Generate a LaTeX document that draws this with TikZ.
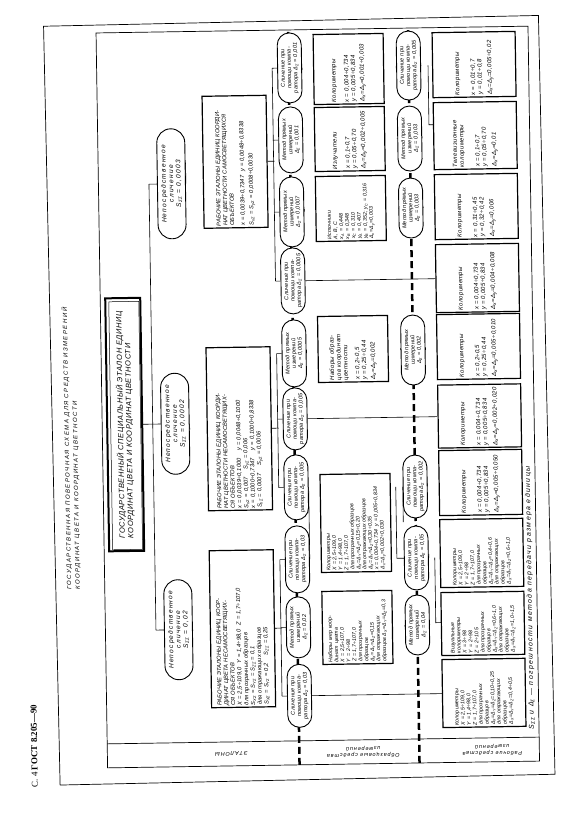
\documentclass[tikz,border=0pt]{standalone}
\usepackage{fontspec}
\setmainfont{Liberation Sans}
\newfontfamily\hdrfont{Liberation Serif}
\usetikzlibrary{shapes.misc,positioning,calc}

\newcommand{\dlt}[1]{Δ\textsubscript{#1}}
\newcommand{\sgm}[1]{S\textsubscript{#1}}

\tikzset{
  frm/.style={line width=0.7pt},
  box/.style={draw, line width=1.2pt, inner sep=2pt, align=left, font=\itshape\fontsize{6}{6.8}\selectfont\addfontfeature{LetterSpace=5}},
  dense/.style={font=\itshape\fontsize{5.3}{6}\selectfont\addfontfeature{LetterSpace=2}},
  wsbox/.style={box, minimum height=64pt, font=\itshape\fontsize{5.8}{6.7}\selectfont\addfontfeature{LetterSpace=2}},
  rbox/.style={box, minimum height=70pt},
  sbox/.style={box, minimum height=83pt},
  oval/.style={draw, line width=0.9pt, fill=white, rounded rectangle, minimum height=24pt, inner sep=0pt, align=center, font=\itshape\fontsize{5.6}{6.3}\selectfont\addfontfeature{LetterSpace=3}},
  nsoval/.style={oval, minimum height=28pt, font=\itshape\fontsize{6.6}{7.4}\selectfont\addfontfeature{LetterSpace=18}},
  link/.style={line width=0.6pt},
  sepline/.style={line width=2.5pt, dash pattern=on 7pt off 4pt},
  ttl/.style={font=\itshape\fontsize{6}{7}\selectfont\addfontfeature{LetterSpace=25}},
  lbl/.style={align=center, font=\itshape\fontsize{5.5}{6.5}\selectfont\addfontfeature{LetterSpace=15}}
}

\begin{document}
\begin{tikzpicture}[x=1pt,y=1pt]
\useasboundingbox (0,0) rectangle (576,822);
\fill[white] (0,0) rectangle (576,822);
\draw[frm, rotate around={1.25:(288,411)}] (52,42) rectangle (547,801); % page border
\begin{scope}[rotate around={0.9:(288,411)}]
\begin{scope}[rotate=90, transform shape]
  % frame and row strip
  \draw[frm] (57,-102) rectangle (792,-534);
  \draw[frm] (81,-102) -- (81,-534);
  \coordinate (s1a) at (57,-294); \coordinate (s1b) at (792,-294);
  \coordinate (s2a) at (57,-414); \coordinate (s2b) at (792,-414);
  \draw[sepline] (s1a) -- (s1b);
  \draw[sepline] (s2a) -- (s2b);

  \node[anchor=west, font=\hdrfont\fontsize{9}{9}\selectfont] (hdr) at (35,-29) {С. 4 \textbf{ГОСТ 8.205—90}};
  \node[ttl, anchor=base west] (ttl1) at (232,-68.5) {ГОСУДАРСТВЕННАЯ ПОВЕРОЧНАЯ СХЕМА ДЛЯ СРЕДСТВ ИЗМЕРЕНИЙ};
  \node[ttl, anchor=base west] (ttl2) at (232,-77) {КООРДИНАТ ЦВЕТА И КООРДИНАТ ЦВЕТНОСТИ};

  \node[lbl, rotate=90] (lab1) at (69,-226) {ЭТАЛОНЫ};
  \node[lbl, rotate=90] (lab2) at (69,-358) {Образцовые средства\\измерений};
  \node[lbl, rotate=90] (lab3) at (69,-487) {Рабочие средства\\измерений};

  % state standard
  \node[draw, line width=2pt, minimum width=253pt, minimum height=35pt, align=left,
        font=\itshape\fontsize{7.5}{8.5}\selectfont\addfontfeature{LetterSpace=8}] (std) at (400,-124.5)
        {ГОСУДАРСТВЕННЫЙ СПЕЦИАЛЬНЫЙ ЭТАЛОН ЕДИНИЦ\\КООРДИНАТ ЦВЕТА И КООРДИНАТ ЦВЕТНОСТИ};
  \draw[line width=0.5pt] (std.south west) ++(2.5,2.5) rectangle ++(248,30);

  \node[nsoval, minimum width=100pt] (ns1) at (194,-175) {Непосредственное\\сличение\\\sgm{ΣΣ} = 0,02};
  \node[nsoval, minimum width=101pt] (ns2) at (400,-175) {Непосредственное\\сличение\\\sgm{ΣΣ} = 0,0002};
  \node[nsoval, minimum width=110pt] (ns3) at (640,-175) {Непосредственное\\сличение\\\sgm{ΣΣ} = 0,0003};
  \draw[link] (std.south) -- (ns2.north);
  \draw[link] (ns1.north) -- ++(0,8) coordinate (bs1);
  \draw[link] (ns3.north) -- ++(0,8) coordinate (bs3);
  \draw[link] (bs1) -- (bs3);

  % working standards
  \node[wsbox, text width=153pt] (ws1) at (194,-239) {РАБОЧИЕ ЭТАЛОНЫ ЕДИНИЦ КООР-\\ДИНАТ ЦВЕТА НЕСАМОСВЕТЯЩИХ-\\СЯ ОБЪЕКТОВ\\X = 2,5÷109,0 \ Y = 1,4÷98,0 \ Z = 1,7÷107,0\\для прозрачных образцов\\\sgm{XΣ} = \sgm{YΣ} = \sgm{ZΣ} = 0,1\\для отражающих образцов\\\sgm{XΣ} = \sgm{YΣ} = 0,2 \quad \sgm{ZΣ} = 0,25};
  \node[wsbox, text width=159pt] (ws2) at (394,-239) {РАБОЧИЕ ЭТАЛОНЫ ЕДИНИЦ КООРДИ-\\НАТ ЦВЕТНОСТИ НЕСАМОСВЕТЯЩИХ-\\СЯ ОБЪЕКТОВ\\x = 0,0039÷0,1000 \quad y = 0,0048÷0,1000\\\sgm{xΣ} = 0,007 \quad \sgm{yΣ} = 0,006\\x = 0,1000÷0,7347 \quad y = 0,1000÷0,8338\\\sgm{xΣ} = 0,0007 \quad \sgm{yΣ} = 0,0006};
  \node[wsbox, text width=128pt] (ws3) at (661,-239) {РАБОЧИЕ ЭТАЛОНЫ ЕДИНИЦ КООРДИ-\\НАТ ЦВЕТНОСТИ САМОСВЕТЯЩИХСЯ\\ОБЪЕКТОВ\\[4pt]x = 0,0039÷0,7347 \ y = 0,0048÷0,8338\\[2pt]\sgm{xΣ} = \sgm{yΣ} = 0,0008÷0,0030};
  \draw[link] (ns1.south) -- (ns1.south -| ws1.north);
  \draw[link] (ns2.south) -- (ns2.south -| ws2.north);
  \draw[link] (ns3.south) -- (ns3.south -| ws3.north);

  % transfer methods, first level
  \node[oval, minimum width=63pt] (l1) at (126,-295) {Сличение при\\помощи компа-\\ратора \dlt{Σ} = 0,03};
  \node[oval, minimum width=61pt] (l2) at (194.5,-295) {Метод прямых\\измерений\\\dlt{Σ} = 0,02};
  \node[oval, minimum width=67pt] (l3) at (262.5,-295) {Сличение при\\помощи компа-\\ратора \dlt{Σ} = 0,03};
  \node[oval, minimum width=65pt] (l4) at (334.5,-295) {Сличение при\\помощи компа-\\ратора \dlt{Σ} = 0,005};
  \node[oval, minimum width=62pt] (l5) at (403,-295) {Сличение при\\помощи компа-\\ратора \dlt{Σ} = 0,005};
  \node[oval, minimum width=67pt] (l6) at (468.5,-295) {Метод прямых\\измерений\\\dlt{Σ} = 0,0005};
  \node[oval, minimum width=66pt] (l7) at (541,-295) {Сличение при\\помощи компа-\\ратора \dlt{Σ} = 0,0005};
  \node[oval, minimum width=70pt] (l8) at (610,-295) {Метод прямых\\измерений\\\dlt{Σ} = 0,0007};
  \node[oval, minimum width=66pt] (l9) at (682,-295) {Метод прямых\\измерений\\\dlt{Σ} = 0,001};
  \node[oval, minimum width=70pt] (l10) at (754,-295) {Сличение при\\помощи компа-\\ратора \dlt{Σ} = 0,001};

  % buses from the working standards
  \draw[link] (ws1.south) -- ++(0,-7);
  \draw[link] (ws2.south) -- ++(0,-7);
  \draw[link] (ws3.south) -- ++(0,-7);
  \draw[link] (l1.north) -- ++(0,5) coordinate (b1a);
  \draw[link] (l2.north) -- ++(0,5);
  \draw[link] (l3.north) -- ++(0,5) coordinate (b1b);
  \draw[link] (b1a) -- (b1b);
  \draw[link] (l4.north) -- ++(0,5) coordinate (b2a);
  \draw[link] (l5.north) -- ++(0,5);
  \draw[link] (l6.north) -- ++(0,5) coordinate (b2b);
  \draw[link] (b2a) -- (b2b);
  \draw[link] (l7.north) -- ++(0,5) coordinate (b3a);
  \draw[link] (l8.north) -- ++(0,5);
  \draw[link] (l9.north) -- ++(0,5);
  \draw[link] (l10.north) -- ++(0,5) coordinate (b3b);
  \draw[link] (b3a) -- (b3b);

  % reference measuring instruments
  \node[rbox, dense, text width=69pt] (r2f) at (193.5,-354) {Наборы мер коор-\\динат цвета\\X = 2,5÷107,0\\Y = 2÷98\\Z = 1,7÷107,0\\для прозрачных\\образцов\\\dlt{X}=\dlt{Y}=\dlt{Z}=0,15\\для отражающих\\образцов \dlt{X}=\dlt{Y}=\dlt{Z}=0,3};
  \node[rbox, dense, text width=94pt] (r2e) at (298,-354) {Колориметры\\X = 2,5÷109,0\\Y = 1,4÷98,0\\Z = 1,7÷107,0\\для прозрачных образцов\\\dlt{X}=\dlt{Y}=\dlt{Z}=0,15÷0,20\\для отражающих образцов\\\dlt{X}=\dlt{Y}=\dlt{Z}=0,30÷0,35\\x = 0,004÷0,734 \ y = 0,005÷0,834\\\dlt{x}=\dlt{y}=0,002÷0,030};
  \node[rbox, text width=62pt] (r2d) at (472,-354) {Наборы образ-\\цов координат\\цветности\\[5pt]x = 0,2÷0,5\\y = 0,25÷0,44\\[2pt]\dlt{x}=\dlt{y}=0,002};
  \node[rbox, dense, text width=61pt] (r2c) at (612.5,-354) {Источники\\A, B, C\\x\textsubscript{A} = 0,448\\x\textsubscript{B} = 0,348\\x\textsubscript{C} = 0,310\\y\textsubscript{A} = 0,407\\y\textsubscript{B} = 0,352; y\textsubscript{C} = 0,316\\\dlt{x}=\dlt{y}=0,003};
  \node[rbox, text width=60pt] (r2b) at (682,-354) {Излучатели\\[6pt]x = 0,1÷0,7\\y = 0,05÷0,70\\[2pt]\dlt{x}=\dlt{y}=0,002÷0,005};
  \node[rbox, text width=66pt] (r2a) at (752,-354) {Колориметры\\[6pt]x = 0,004÷0,734\\y = 0,005÷0,834\\[2pt]\dlt{x}=\dlt{y}=0,001÷0,003};
  \draw[link] (l2.south) -- (l2.south -| r2f.north);
  \draw[link] (l3.south) -- (l3.south -| r2e.north);
  \draw[link] (l4.south) -- (l4.south -| r2e.north);
  \draw[link] (l6.south) -- (l6.south -| r2d.north);
  \draw[link] (l8.south) -- (l8.south -| r2c.north);
  \draw[link] (l9.south) -- (l9.south -| r2b.north);
  \draw[link] (l10.south) -- (l10.south -| r2a.north);

  % transfer methods, second level
  \node[oval, minimum width=60pt] (k1) at (195,-414) {Метод прямых\\измерений\\\dlt{Σ} = 0,04};
  \node[oval, minimum width=64pt] (k2) at (262,-414) {Сличение при\\помощи компа-\\ратора \dlt{Σ} = 0,05};
  \node[oval, minimum width=63pt] (k3) at (333.5,-414) {Сличение при\\помощи компа-\\ратора \dlt{Σ} = 0,002};
  \node[oval, minimum width=70pt] (k4) at (470,-414) {Метод прямых\\измерений\\\dlt{Σ} = 0,002};
  \node[oval, minimum width=60pt] (k5) at (612,-414) {Метод прямых\\измерений\\\dlt{Σ} = 0,003};
  \node[oval, minimum width=65pt] (k6) at (681.5,-414) {Метод прямых\\измерений\\\dlt{Σ} = 0,003};
  \node[oval, minimum width=69pt] (k7) at (754.5,-414) {Сличение при\\помощи компа-\\ратора \dlt{Σ} = 0,005};
  \draw[link] (k1.north) -- (k1.north -| r2f.south);
  \draw[link] (k3.north) -- (k3.north -| r2e.south);
  \draw[link] (k3.north) ++(0,7) -- ++(-71.5,0) -- (k2.north);
  \draw[link] (k4.north) -- (k4.north -| r2d.south);
  \draw[link] (k5.north) -- (k5.north -| r2c.south);
  \draw[link] (k6.north) -- (k6.north -| r2b.south);
  \draw[link] (k7.north) -- (k7.north -| r2a.south);

  % working measuring instruments
  \node[sbox, dense, text width=64pt] (r3j) at (126,-479.5) {Колориметры\\X = 2,5÷109,0\\Y = 1,4÷98,0\\Z = 1,7÷107,0\\для прозрачных\\образцов\\\dlt{X}=\dlt{Y}=\dlt{Z}=0,10÷0,25\\для отражающих\\образцов\\\dlt{X}=\dlt{Y}=\dlt{Z}=0,4÷0,5};
  \node[sbox, dense, text width=59pt] (r3i) at (195.5,-479.5) {Визуальные\\колориметры\\X = 3÷98\\Y = 2÷98\\Z = 2÷105\\для прозрачных\\образцов\\\dlt{X}=\dlt{Y}=\dlt{Z}=0,6÷1,0\\для отражающих\\образцов\\\dlt{X}=\dlt{Y}=\dlt{Z}=1,0÷1,5};
  \node[sbox, dense, text width=64pt] (r3h) at (266,-479.5) {Колориметры\\X = 2,5÷109,0\\Y = 2÷98\\Z = 1,7÷107,0\\для прозрачных\\образцов\\\dlt{X}=\dlt{Y}=\dlt{Z}=0,4÷0,6\\для отражающих\\образцов\\\dlt{X}=\dlt{Y}=\dlt{Z}=0,6÷1,0};
  \node[sbox, text width=61pt] (r3g) at (336.5,-479.5) {Колориметры\\[9pt]x = 0,004÷0,734\\y = 0,005÷0,834\\[3pt]\dlt{x}=\dlt{y}=0,005÷0,050};
  \node[sbox, text width=59pt] (r3f) at (403,-479.5) {Колориметры\\[9pt]x = 0,004÷0,734\\y = 0,005÷0,834\\[3pt]\dlt{x}=\dlt{y}=0,002÷0,020};
  \node[sbox, text width=61pt] (r3e) at (472.5,-479.5) {Колориметры\\[9pt]x = 0,2÷0,5\\y = 0,25÷0,44\\[3pt]\dlt{x}=\dlt{y}=0,005÷0,010};
  \node[sbox, text width=64pt] (r3d) at (541,-479.5) {Колориметры\\[9pt]x = 0,004÷0,734\\y = 0,005÷0,834\\[3pt]\dlt{x}=\dlt{y}=0,004÷0,008};
  \node[sbox, text width=61pt] (r3c) at (612.5,-479.5) {Колориметры\\[9pt]x = 0,31÷0,45\\y = 0,32÷0,42\\[3pt]\dlt{x}=\dlt{y}=0,006};
  \node[sbox, text width=63pt] (r3b) at (683.5,-479.5) {Телевизионные\\колориметры\\[9pt]x = 0,1÷0,7\\y = 0,05÷0,70\\[3pt]\dlt{x}=\dlt{y}=0,01};
  \node[sbox, text width=61pt] (r3a) at (754.5,-479.5) {Колориметры\\[9pt]x = 0,01÷0,7\\y = 0,01÷0,8\\[3pt]\dlt{x}=\dlt{y}=0,005÷0,02};
  \draw[link] (l1.south) -- (r3j.north);
  \draw[link] (l5.south) -- (r3f.north);
  \draw[link] (l7.south) -- (r3d.north);
  \draw[link] (k1.south) -- (k1.south -| r3i.north);
  \draw[link] (k2.south) -- (k2.south -| r3h.north);
  \draw[link] (k2.south) ++(0,-6) -- ++(-65,0) -- ++(0,-6);
  \draw[link] (k3.south) -- (k3.south -| r3g.north);
  \draw[link] (k4.south) -- (k4.south -| r3e.north);
  \draw[link] (k5.south) -- (k5.south -| r3c.north);
  \draw[link] (k6.south) -- (k6.south -| r3b.north);
  \draw[link] (k7.south) -- (k7.south -| r3a.north);
  \draw[link] (k7.south) ++(0,-7) -- ++(-59.5,0) -- ++(0,-5);

  \node[anchor=west, font=\itshape\fontsize{7}{8}\selectfont\addfontfeature{LetterSpace=20}] (note) at (85,-527)
        {\sgm{ΣΣ} и \dlt{Σ} — погрешности метода передачи размера единицы};
\end{scope}
\end{scope}
\end{tikzpicture}
\end{document}
